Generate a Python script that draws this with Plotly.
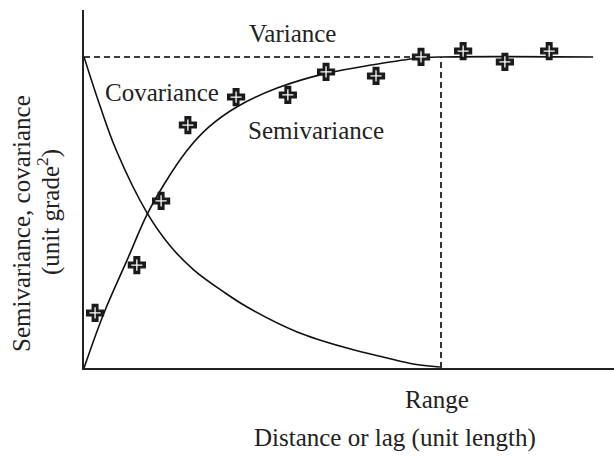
import plotly.graph_objects as go

# Experimental semivariance points (lag, semivariance), sill = 1, range = 10
lag_obs = [0.31, 1.48, 2.16, 2.91, 4.26, 5.71, 6.78, 8.18, 9.44, 10.62, 11.79, 13.03]
gamma_obs = [0.177, 0.331, 0.537, 0.781, 0.871, 0.878, 0.952, 0.939, 1.0, 1.019, 0.984, 1.019]

# Model semivariance curve
lag_semi = [0.0, 0.56, 1.20, 1.76, 2.24, 2.89, 3.50, 4.29, 5.41, 6.81, 8.10, 9.33, 10.0, 14.26]
gamma_model = [0.0, 0.177, 0.345, 0.492, 0.590, 0.700, 0.775, 0.840, 0.900, 0.948, 0.975, 0.996, 1.0, 1.0]

# Model covariance curve
lag_cov = [0.0, 0.45, 0.90, 1.77, 2.44, 3.08, 3.92, 4.57, 5.97, 7.37, 8.49, 9.22, 9.97]
cov_model = [1.0, 0.842, 0.701, 0.498, 0.389, 0.315, 0.244, 0.196, 0.116, 0.064, 0.032, 0.013, 0.003]

sill = 1.0
range_a = 10.0
sill_dash_end = 9.3
x_max = 14.846
y_max = 1.151

FONT = "Liberation Serif, Times New Roman, serif"

fig = go.Figure()

# dashed variance line and range line
fig.add_trace(go.Scatter(x=[0, sill_dash_end], y=[sill, sill], mode="lines",
                         line=dict(color="black", width=1.6, dash="6px,4px"), hoverinfo="skip"))
fig.add_trace(go.Scatter(x=[range_a, range_a], y=[0, sill], mode="lines",
                         line=dict(color="black", width=1.6, dash="6px,4px"), hoverinfo="skip"))

# covariance
fig.add_trace(go.Scatter(x=lag_cov, y=cov_model, mode="lines", line_shape="spline",
                         line=dict(color="#111", width=1.6)))
# semivariance
fig.add_trace(go.Scatter(x=lag_semi, y=gamma_model, mode="lines", line_shape="spline",
                         line=dict(color="#111", width=1.6)))

# observed points: black cross with white inner plus
fig.add_trace(go.Scatter(x=lag_obs, y=gamma_obs, mode="markers",
                         marker=dict(symbol="cross", size=14, color="#1a1a1a",
                                     line=dict(color="#1a1a1a", width=1.4))))
fig.add_trace(go.Scatter(x=lag_obs, y=gamma_obs, mode="markers",
                         marker=dict(symbol="cross-thin", size=8,
                                     line=dict(color="white", width=1.3))))

annotations = [
    dict(x=292, y=33, text="Variance"),
    dict(x=162, y=92, text="Covariance"),
    dict(x=316, y=130, text="Semivariance"),
    dict(x=437, y=400, text="Range"),
    dict(x=395, y=438, text="Distance or lag (unit length)"),
    dict(x=21, y=224, text="Semivariance, covariance", textangle=-90),
    dict(x=48, y=212, text="(unit grade<sup>2</sup>)", textangle=-90),
]
ann = []
for a in annotations:
    d = dict(xref="paper", yref="paper", showarrow=False,
             font=dict(family=FONT, size=25, color="#222"),
             xanchor="center", yanchor="middle")
    d["x"] = (a["x"] - 84) / 530
    d["y"] = (368 - a["y"]) / 358
    d["text"] = a["text"]
    if "textangle" in a:
        d["textangle"] = a["textangle"]
    ann.append(d)

fig.update_layout(
    width=614, height=457,
    margin=dict(l=84, r=0, t=10, b=89),
    paper_bgcolor="white", plot_bgcolor="white",
    showlegend=False,
    annotations=ann,
    xaxis=dict(range=[0, x_max], showgrid=False, zeroline=False, showticklabels=False,
               ticks="", showline=True, linecolor="#222", linewidth=2),
    yaxis=dict(range=[0, y_max], showgrid=False, zeroline=False, showticklabels=False,
               ticks="", showline=True, linecolor="#222", linewidth=2),
)

fig.write_html("out.html", config={"displayModeBar": False},
               post_script="document.body.style.margin='0';document.body.style.overflow='hidden';")
